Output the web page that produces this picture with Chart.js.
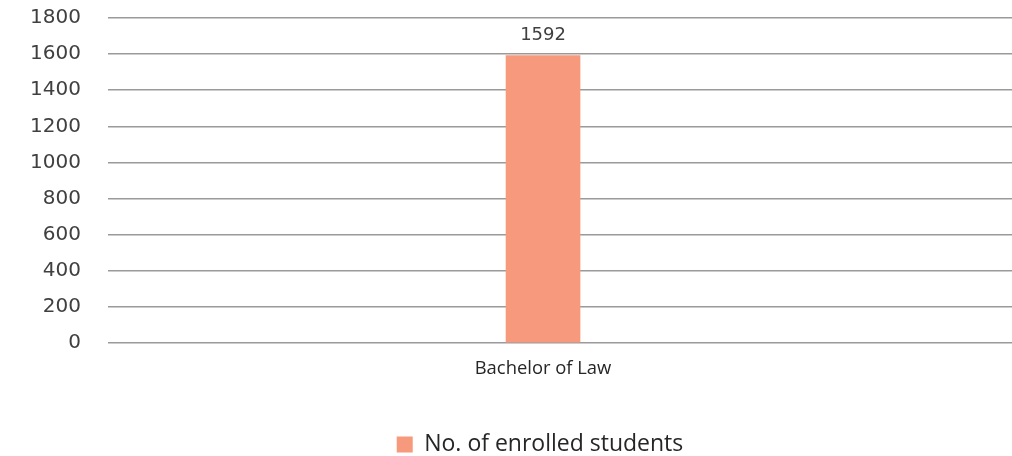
<!DOCTYPE html>
<html>
<head>
<meta charset="utf-8">
<script src="https://cdn.jsdelivr.net/npm/chart.js@4.4.1/dist/chart.umd.min.js"></script>
<style>
  html, body { margin: 0; padding: 0; background: #fff; }
  #wrap { width: 1012px; height: 456px; }
</style>
</head>
<body>
<div id="wrap"><canvas id="myChart"></canvas></div>
<script>
var categories = ['Bachelor of Law'];
var enrolled = [1592];
var seriesName = 'No. of enrolled students';
var yTicks = [0, 200, 400, 600, 800, 1000, 1200, 1400, 1600, 1800];

// writes the value above each bar
var valueLabels = {
    id: 'valueLabels',
    afterDatasetsDraw: function(chart){
        var ctx = chart.ctx;
        var meta = chart.getDatasetMeta(0);
        ctx.save();
        ctx.font = '18px "DejaVu Sans"';
        ctx.fillStyle = '#404040';
        ctx.textAlign = 'center';
        ctx.textBaseline = 'bottom';
        meta.data.forEach(function(bar, i){
            ctx.fillText(String(enrolled[i]), bar.x, bar.y - 11);
        });
        ctx.restore();
    }
};

// centre the legend under the plot like the original
var legendShift = {
    id: 'legendShift',
    beforeDraw: function(chart){
        chart.legend.left = 68;
    }
};

var points = categories.map(function(c, i){ return { x: i, y: enrolled[i] }; });

var ctx = document.getElementById('myChart').getContext('2d');
var myChart = new Chart(ctx, {
    type: 'bar',
    data: {
        datasets: [{
            label: seriesName,
            data: points,
            backgroundColor: 'rgb(247, 153, 124)',
            borderWidth: 0,
            barThickness: 74
        }]
    },
    options: {
        responsive: true,
        maintainAspectRatio: false,
        animation: false,
        layout: { padding: { left: 0, right: 0, top: 0, bottom: -10 } },
        scales: {
            x: {
                type: 'linear',
                offset: false,
                min: -0.5,
                max: 0.539,
                afterBuildTicks: function(axis){
                    axis.ticks = categories.map(function(c, i){ return { value: i }; });
                },
                grid: { display: false },
                border: { display: false },
                ticks: {
                    color: '#262626',
                    font: { family: '"Open Sans"', size: 18.4 },
                    padding: 7,
                    callback: function(v){ return categories[v]; }
                }
            },
            y: {
                min: 0,
                max: 1800,
                afterBuildTicks: function(axis){
                    axis.ticks = yTicks.map(function(v){ return { value: v }; });
                },
                afterFit: function(axis){
                    axis.width = 108;
                    axis.paddingTop = 18;
                    axis.paddingBottom = 0;
                },
                grid: { color: '#9a9a9a', lineWidth: 1.5, drawTicks: false },
                border: { display: false },
                ticks: {
                    color: '#404040',
                    font: { family: '"DejaVu Sans"', size: 20 },
                    padding: 27,
                    callback: function(v){ return String(v); }
                }
            }
        },
        plugins: {
            legend: {
                position: 'bottom',
                labels: {
                    color: '#262626',
                    font: { family: '"Open Sans"', size: 23 },
                    boxWidth: 16,
                    boxHeight: 16,
                    padding: 46
                }
            },
            tooltip: { enabled: false }
        }
    },
    plugins: [valueLabels, legendShift]
});
</script>
</body>
</html>
